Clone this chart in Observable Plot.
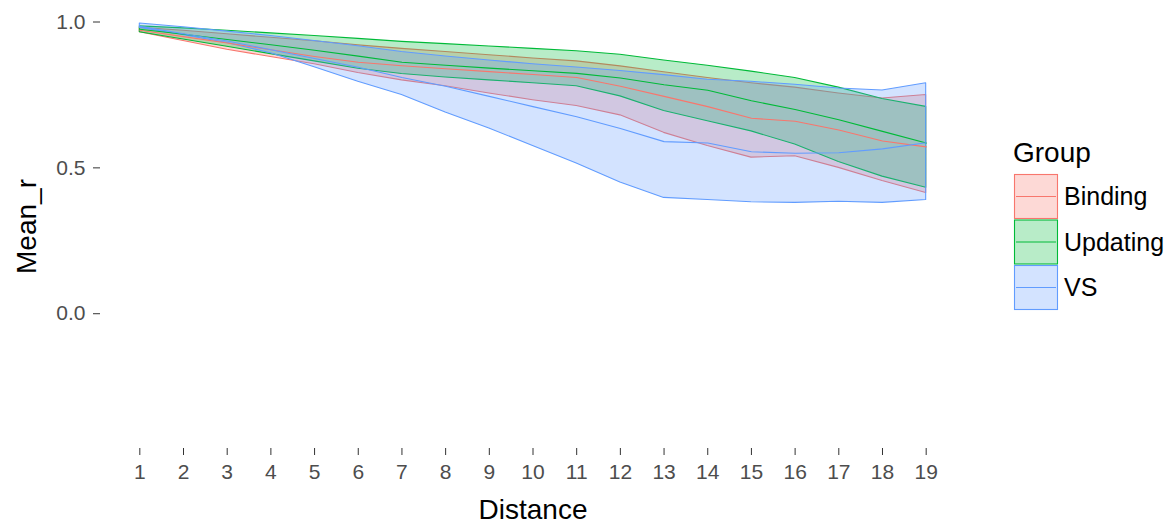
<!DOCTYPE html>
<html>
<head>
<meta charset="utf-8">
<script src="https://cdn.jsdelivr.net/npm/d3@7"></script>
<script src="https://cdn.jsdelivr.net/npm/@observablehq/plot@0.6"></script>
<style>
  body { margin: 0; background: #fff; font-family: "Liberation Sans", Arial, sans-serif; }
  #wrap { position: relative; width: 1169px; height: 529px; }
  #legend { position: absolute; left: 1005px; top: 130px; }
</style>
</head>
<body>
<div id="wrap"><div id="chart"></div><svg id="legend" width="164" height="200"></svg></div>
<script>
// ---- data ----
const groups = ["Binding", "Updating", "VS"];
const groupColors = ["#F8766D", "#00BA38", "#619CFF"];
const distance = [1, 2, 3, 4, 5, 6, 7, 8, 9, 10, 11, 12, 13, 14, 15, 16, 17, 18, 19];

const bindingLower = [0.965, 0.935, 0.905, 0.88, 0.855, 0.825, 0.80, 0.78, 0.755, 0.732, 0.712, 0.68, 0.62, 0.575, 0.535, 0.54, 0.50, 0.455, 0.414];
const bindingMean  = [0.972, 0.95, 0.928, 0.905, 0.882, 0.862, 0.85, 0.84, 0.83, 0.82, 0.81, 0.78, 0.745, 0.71, 0.67, 0.66, 0.63, 0.592, 0.572];
const bindingUpper = [0.98, 0.97, 0.958, 0.946, 0.934, 0.92, 0.908, 0.897, 0.886, 0.875, 0.865, 0.848, 0.828, 0.808, 0.79, 0.775, 0.755, 0.738, 0.75];

const updatingLower = [0.965, 0.94, 0.915, 0.89, 0.865, 0.84, 0.822, 0.81, 0.80, 0.79, 0.78, 0.745, 0.695, 0.66, 0.625, 0.58, 0.52, 0.47, 0.432];
const updatingMean  = [0.975, 0.958, 0.94, 0.922, 0.903, 0.883, 0.862, 0.852, 0.842, 0.833, 0.824, 0.808, 0.785, 0.766, 0.73, 0.70, 0.665, 0.625, 0.585];
const updatingUpper = [0.985, 0.978, 0.97, 0.961, 0.952, 0.942, 0.932, 0.924, 0.916, 0.908, 0.90, 0.888, 0.868, 0.85, 0.83, 0.808, 0.775, 0.736, 0.709];

const vsLower = [0.98, 0.955, 0.928, 0.893, 0.845, 0.795, 0.75, 0.69, 0.635, 0.575, 0.515, 0.45, 0.397, 0.39, 0.382, 0.38, 0.384, 0.38, 0.39];
const vsMean  = [0.985, 0.96, 0.935, 0.905, 0.875, 0.845, 0.81, 0.78, 0.745, 0.71, 0.675, 0.635, 0.59, 0.585, 0.555, 0.55, 0.552, 0.565, 0.586];
const vsUpper = [0.995, 0.982, 0.967, 0.952, 0.935, 0.917, 0.897, 0.882, 0.868, 0.855, 0.844, 0.832, 0.818, 0.802, 0.795, 0.785, 0.772, 0.765, 0.79];

const yTicks = [0, 0.5, 1.0];

// ---- build table ----
const series = {
  Binding: [bindingLower, bindingMean, bindingUpper],
  Updating: [updatingLower, updatingMean, updatingUpper],
  VS: [vsLower, vsMean, vsUpper]
};
const rows = [];
for (const g of groups) {
  const [lo, mu, hi] = series[g];
  distance.forEach((d, i) => rows.push({Group: g, Distance: d, lower: lo[i], mean: mu[i], upper: hi[i]}));
}

const chart = Plot.plot({
  width: 1169,
  height: 529,
  marginLeft: 100,
  marginRight: 204,
  marginTop: 4,
  marginBottom: 81,
  style: {fontFamily: "'Liberation Sans', Arial, sans-serif", background: "#fff"},
  x: {domain: [0.1, 19.9]},
  y: {domain: [-0.462, 1.06]},
  color: {domain: groups, range: groupColors},
  marks: [
    Plot.areaY(rows, {x: "Distance", y1: "lower", y2: "upper", z: "Group", fill: "Group", fillOpacity: 0.28, stroke: "Group", strokeWidth: 1.1}),
    Plot.line(rows, {x: "Distance", y: "mean", z: "Group", stroke: "Group", strokeWidth: 1.1}),
    Plot.axisX({ticks: distance, tickFormat: d => String(d), tickSize: 7, tickPadding: 9, fontSize: 21, stroke: "#333", fill: "#4D4D4D", label: null}),
    Plot.axisY({ticks: yTicks, tickFormat: d3.format(".1f"), tickSize: 7, tickPadding: 8, fontSize: 21, stroke: "#333", fill: "#4D4D4D", label: null}),
    Plot.text(["Distance"], {frameAnchor: "bottom", text: d => d, dy: 62, fontSize: 28, fill: "#000", lineAnchor: "middle"}),
    Plot.text(["Mean_r"], {frameAnchor: "left", text: d => d, dx: -73, rotate: -90, fontSize: 28, fill: "#000", lineAnchor: "middle", textAnchor: "middle"})
  ]
});
document.getElementById("chart").appendChild(chart);

// ---- legend ----
const lg = d3.select("#legend");
lg.append("text").attr("x", 8).attr("y", 32).attr("font-size", 28).attr("fill", "#000")
  .attr("font-family", "'Liberation Sans', Arial, sans-serif").text("Group");
groups.forEach((g, i) => {
  const y0 = 44 + i * 45.5;
  const c = groupColors[i];
  lg.append("rect").attr("x", 9.5).attr("y", y0 + 0.5).attr("width", 43).attr("height", 44)
    .attr("fill", c).attr("fill-opacity", 0.28).attr("stroke", c).attr("stroke-width", 1.1);
  lg.append("line").attr("x1", 11).attr("x2", 51).attr("y1", y0 + 22.5).attr("y2", y0 + 22.5)
    .attr("stroke", c).attr("stroke-width", 1.1);
  lg.append("text").attr("x", 59).attr("y", y0 + 22.5).attr("dy", "0.35em").attr("font-size", 25)
    .attr("fill", "#000").attr("font-family", "'Liberation Sans', Arial, sans-serif").text(g);
});
</script>
</body>
</html>
